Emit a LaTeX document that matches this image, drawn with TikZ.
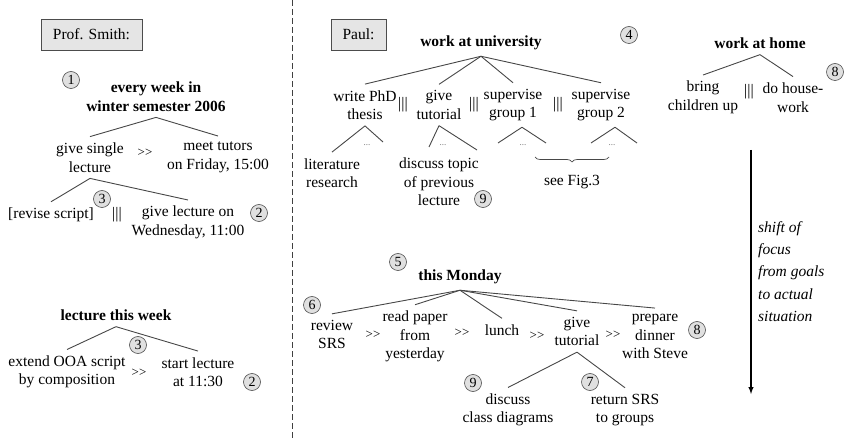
\documentclass[tikz,border=0pt]{standalone}
\usepackage{fontspec}
\setmainfont{Liberation Serif}
\usetikzlibrary{decorations.pathreplacing}

\begin{document}
\begin{tikzpicture}[x=1pt,y=-1pt,
    txt/.style={align=center,inner sep=6pt,font=\fontsize{15.5}{18.5}\selectfont},
    goal/.style={txt,font=\fontsize{15.5}{18.5}\selectfont\bfseries},
    num/.style={circle,draw=black!70,fill=black!12,line width=0.6pt,minimum size=17pt,inner sep=0pt,font=\fontsize{14}{14}\selectfont},
    who/.style={draw=black!70,fill=black!10,line width=0.6pt,minimum width=101pt,minimum height=31pt,font=\fontsize{15.5}{18}\selectfont},
    branch/.style={draw=black!72,line width=0.9pt},
    seq/.style={inner sep=1pt,font=\fontsize{13}{13}\selectfont},
    par/.style={inner sep=1pt,font=\fontsize{16}{16}\selectfont},
    dots/.style={inner sep=1pt,text=black!55,font=\fontsize{9}{9}\selectfont}]

        \useasboundingbox (0,0) rectangle (846,438);

        % Divider between the two persons
        \coordinate (divtop) at (292,0);
        \coordinate (divbot) at (292,438);
        \draw[black!75,line width=0.7pt,dash pattern=on 6pt off 3pt] (divtop) -- (divbot);

        % ---------------- Prof. Smith ----------------
        \node[who] (smith) at (91.5,34.5) {Prof. Smith:};

        \node[goal] (week) at (156,96.5) {every week in\\winter semester 2006};
        \node[num] (w1) at (71,80) {1};
        \node[txt] (single) at (90,157.5) {give single\\lecture};
        \node[seq] (s1) at (145,153) {>{}>};
        \node[txt] (tutors) at (218,157.5) {meet tutors\\on Friday, 15:00};
        \draw[branch] (week.south) -- (single.north);
        \draw[branch] (week.south) -- (tutors.north);

        \node[txt] (revise) at (51,215) {[revise script]};
        \node[par] (p1) at (117,215) {|||};
        \node[txt] (wednesday) at (188,222.5) {give lecture on\\Wednesday, 11:00};
        \node[num] (w3) at (102,199) {3};
        \node[num] (w2) at (259,213) {2};
        \draw[branch] (single.south) -- (revise.north);
        \draw[branch] (single.south) -- (wednesday.north);

        \node[goal] (thisweek) at (116,315) {lecture this week};
        \node[txt] (extend) at (67,372) {extend OOA script\\by composition};
        \node[seq] (s2) at (139,373) {>{}>};
        \node[txt] (start) at (198,372) {start lecture\\at 11:30};
        \node[num] (l3) at (138,345) {3};
        \node[num] (l2) at (252,382) {2};
        \draw[branch] (thisweek.south) -- (extend.north);
        \draw[branch] (thisweek.south) -- (start.north);

        % ---------------- Paul ----------------
        \node[who,minimum width=55pt] (paul) at (358.5,34.5) {Paul:};

        % work at university
        \node[goal] (uni) at (481,43) {work at university};
        \node[num] (u4) at (629,35) {4};
        \node[txt] (phd) at (365,105) {write PhD\\thesis};
        \node[par] (p2) at (403,105) {|||};
        \node[txt] (tut) at (439,105) {give\\tutorial};
        \node[par] (p3) at (474,105) {|||};
        \node[txt] (supA) at (513,105) {supervise\\group 1};
        \node[par] (p4) at (558,105) {|||};
        \node[txt] (supB) at (601,105) {supervise\\group 2};
        \foreach \n in {phd,tut,supA,supB}
            \draw[branch] (uni.south) -- (\n.north);

        % Open ends of the sub-trees
        \coordinate (phdR) at (383,142);
        \coordinate (tutL) at (429,147);
        \coordinate (tutR) at (477,150);
        \coordinate (supAL) at (498,143);
        \coordinate (supAR) at (546,143);
        \coordinate (supBL) at (591,143);
        \coordinate (supBR) at (637,143);

        \node[txt] (lit) at (332,173) {literature\\research};
        \node[txt] (topic) at (439,182) {discuss topic\\of previous\\lecture};
        \node[num] (t9) at (483,199) {9};
        \node[dots] (d1) at (367,145) {...};
        \node[dots] (d2) at (443,145) {...};
        \node[dots] (d3) at (523,145) {...};
        \node[dots] (d4) at (612,145) {...};

        \draw[branch] (phd.south) -- (lit.north);
        \draw[branch] (phd.south) -- (phdR);
        \draw[branch] (tut.south) -- (tutL);
        \draw[branch] (tut.south) -- (tutR);
        \draw[branch] ([xshift=9pt]supA.south) -- (supAL);
        \draw[branch] ([xshift=9pt]supA.south) -- (supAR);
        \draw[branch] ([xshift=14pt]supB.south) -- (supBL);
        \draw[branch] ([xshift=14pt]supB.south) -- (supBR);

        % Brace over the supervision parts
        \coordinate (brL) at (535,157);
        \coordinate (brR) at (609,157);
        \draw[black!72,line width=0.7pt,decorate,decoration={brace,mirror,amplitude=5pt}] (brL) -- (brR);
        \node[txt] (fig) at (572,182) {see Fig.3};

        % work at home
        \node[goal] (home) at (760,43) {work at home};
        \node[txt] (bring) at (703,97.5) {bring\\children up};
        \node[par] (p5) at (749,92) {|||};
        \node[txt] (house) at (793,97.5) {do house-\\work};
        \node[num] (h8) at (835,72) {8};
        \draw[branch] (home.south) -- (bring.north);
        \draw[branch] (home.south) -- (house.north);

        % this Monday
        \node[goal] (monday) at (460,277) {this Monday};
        \node[num] (m5) at (398,262) {5};
        \node[txt] (review) at (332,334.5) {review\\SRS};
        \node[num] (m6) at (312,305) {6};
        \node[seq] (s3) at (373,335) {>{}>};
        \node[txt] (paper) at (415,336.5) {read paper\\from\\yesterday};
        \node[seq] (s4) at (462,333) {>{}>};
        \node[txt] (lunch) at (502,330) {lunch};
        \node[seq] (s5) at (537,336) {>{}>};
        \node[txt] (tutB) at (577,331.5) {give\\tutorial};
        \node[seq] (s6) at (613,335) {>{}>};
        \node[txt] (dinner) at (655,336.5) {prepare\\dinner\\with Steve};
        \node[num] (m8) at (697,330) {8};
        \foreach \n in {review,paper,lunch,tutB,dinner}
            \draw[branch] (monday.south) -- (\n.north);

        \node[txt] (classdia) at (508,410) {discuss\\class diagrams};
        \node[num] (m9) at (473,383) {9};
        \node[txt] (returnsrs) at (625,410) {return SRS\\to groups};
        \node[num] (m7) at (590,382) {7};
        \draw[branch] (tutB.south) -- (classdia.north);
        \draw[branch] (tutB.south) -- (returnsrs.north);

        % Arrow: from goals down to the actual situation
        \coordinate (shiftA) at (751,150);
        \coordinate (shiftB) at (751,394);
        \draw[-latex,line width=1.4pt] (shiftA) -- (shiftB);
        \node[anchor=north west,align=left,inner sep=0pt,font=\fontsize{15.5}{22.3}\selectfont\itshape]
            (shift) at (758,221) {shift of\\focus\\from goals\\to actual\\situation};

    \end{tikzpicture}
\end{document}
